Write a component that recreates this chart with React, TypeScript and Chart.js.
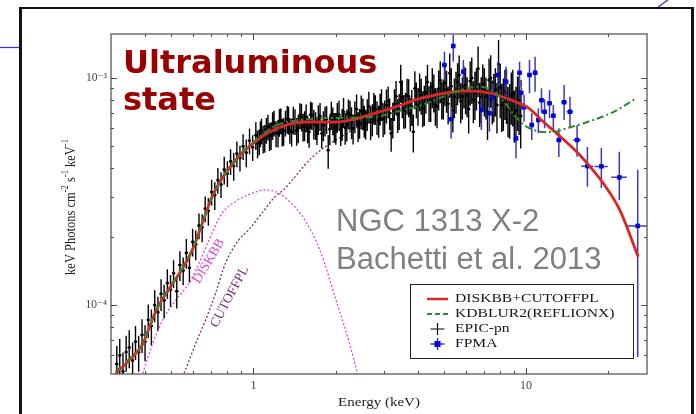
import React, { useEffect, useRef } from 'react';
import { Chart, registerables } from 'chart.js';

Chart.register(...registerables);

// ---------------- axis ranges & ticks ----------------
const X_MIN = 0.312;
const X_MAX = 27.8;
const Y_MIN = 4.966e-5;
const Y_MAX = 1.5625e-3;
const xLabelTicks = [1, 10];
const yLabelTicks = [1e-4, 1e-3];
const xMinorTicks = [0.4, 0.5, 0.6, 0.7, 0.8, 0.9, 2, 3, 4, 5, 6, 7, 8, 9, 20];
const yMinorTicks = [6e-5, 7e-5, 8e-5, 9e-5, 2e-4, 3e-4, 4e-4, 5e-4, 6e-4, 7e-4, 8e-4, 9e-4];

// ---------------- EPIC-pn data (main bins) ----------------
const epicEnergy = [
  0.315, 0.323, 0.332, 0.341, 0.35, 0.36, 0.369, 0.379, 0.39, 0.4,
  0.411, 0.422, 0.434, 0.446, 0.458, 0.47, 0.483, 0.496, 0.509, 0.523,
  0.537, 0.552, 0.567, 0.582, 0.598, 0.614, 0.631, 0.648, 0.665, 0.683,
  0.702, 0.721, 0.74, 0.76, 0.781, 0.802, 0.824, 0.846, 0.869, 0.892,
  0.916, 0.941, 0.967, 0.993, 1.02, 1.05, 1.07, 1.1, 1.13, 1.16,
  1.19, 1.23, 1.26, 1.29, 1.33, 1.36, 1.4, 1.44, 1.48, 1.52,
  1.56, 1.6, 1.64, 1.69, 1.73, 1.78, 1.83, 1.88, 1.93, 1.98,
  2.03, 2.09, 2.14, 2.2, 2.26, 2.32, 2.39, 2.45, 2.52, 2.58,
  2.65, 2.73, 2.8, 2.88, 2.95, 3.03, 3.12, 3.2, 3.29, 3.38,
  3.47, 3.56, 3.66, 3.76, 3.86, 3.96, 4.07, 4.18, 4.29, 4.41,
  4.53, 4.65, 4.78, 4.91, 5.04, 5.18, 5.32, 5.46, 5.61, 5.76,
  5.92, 6.08, 6.24, 6.41, 6.58, 6.76, 6.94, 7.13, 7.32, 7.52,
  7.72, 7.93, 8.15, 8.37, 8.59, 8.83, 9.06, 9.31, 9.56,
];
const epicFlux = [
  5.5e-5, 6.0e-5, 5.1e-5, 6.2e-5, 6.5e-5, 5.7e-5, 6.9e-5, 6.2e-5, 7.4e-5, 6.9e-5,
  8.6e-5, 8.1e-5, 1.0e-4, 9.3e-5, 1.12e-4, 1.05e-4, 1.25e-4, 1.17e-4, 1.38e-4, 1.15e-4,
  1.5e-4, 1.42e-4, 1.7e-4, 1.46e-4, 1.9e-4, 1.85e-4, 2.24e-4, 2.2e-4, 2.66e-4, 2.6e-4,
  3.15e-4, 3.05e-4, 3.55e-4, 3.4e-4, 3.95e-4, 3.8e-4, 4.3e-4, 4.1e-4, 4.65e-4, 4.45e-4,
  5.0e-4, 4.7e-4, 5.3e-4, 4.95e-4, 5.6e-4, 5.25e-4, 5.85e-4, 5.45e-4, 6.1e-4, 5.6e-4,
  6.35e-4, 5.75e-4, 6.5e-4, 5.85e-4, 6.6e-4, 5.9e-4, 6.55e-4, 5.85e-4, 6.85e-4, 6.1e-4,
  6.7e-4, 5.8e-4, 6.85e-4, 6.2e-4, 6.6e-4, 5.7e-4, 6.5e-4, 4.8e-4, 6.9e-4, 6.1e-4,
  6.75e-4, 5.9e-4, 7.1e-4, 6.25e-4, 6.9e-4, 6.0e-4, 7.3e-4, 6.35e-4, 7.0e-4, 6.3e-4,
  7.5e-4, 6.6e-4, 7.3e-4, 6.5e-4, 7.7e-4, 6.8e-4, 7.9e-4, 5.7e-4, 7.7e-4, 6.9e-4,
  9.6e-4, 7.2e-4, 8.4e-4, 7.0e-4, 5.8e-4, 8.1e-4, 8.8e-4, 7.4e-4, 8.6e-4, 7.8e-4,
  9.2e-4, 7.6e-4, 9.0e-4, 8.1e-4, 9.5e-4, 7.7e-4, 9.2e-4, 8.3e-4, 9.6e-4, 7.9e-4,
  9.3e-4, 8.4e-4, 9.7e-4, 8.0e-4, 9.1e-4, 7.8e-4, 9.4e-4, 8.3e-4, 9.8e-4, 8.0e-4,
  8.9e-4, 1.15e-3, 7.6e-4, 8.7e-4, 7.3e-4, 8.4e-4, 7.0e-4, 8.0e-4, 6.8e-4,
];
const epicRelErr = [
  0.2, 0.18, 0.21, 0.18, 0.19, 0.2, 0.17, 0.18, 0.17, 0.18,
  0.17, 0.18, 0.16, 0.17, 0.16, 0.17, 0.15, 0.16, 0.14, 0.16,
  0.15, 0.14, 0.15, 0.14, 0.14, 0.15, 0.13, 0.14, 0.13, 0.14,
  0.13, 0.14, 0.13, 0.13, 0.14, 0.13, 0.13, 0.14, 0.13, 0.13,
  0.13, 0.14, 0.13, 0.13, 0.14, 0.13, 0.13, 0.14, 0.13, 0.14,
  0.13, 0.14, 0.13, 0.14, 0.14, 0.13, 0.14, 0.14, 0.13, 0.14,
  0.14, 0.15, 0.14, 0.14, 0.15, 0.14, 0.15, 0.17, 0.14, 0.15,
  0.15, 0.15, 0.15, 0.16, 0.15, 0.15, 0.16, 0.15, 0.16, 0.15,
  0.16, 0.16, 0.15, 0.16, 0.16, 0.17, 0.16, 0.17, 0.16, 0.17,
  0.19, 0.17, 0.18, 0.17, 0.19, 0.18, 0.19, 0.18, 0.19, 0.18,
  0.2, 0.19, 0.2, 0.19, 0.21, 0.19, 0.2, 0.2, 0.21, 0.2,
  0.21, 0.2, 0.22, 0.21, 0.21, 0.22, 0.22, 0.21, 0.24, 0.22,
  0.24, 0.28, 0.24, 0.25, 0.25, 0.26, 0.26, 0.27, 0.28,
];

// ---------------- EPIC-pn data (interleaved bins, 1-9.5 keV) ----------------
const epicEnergyB = [
  1.035, 1.06, 1.085, 1.115, 1.145, 1.175, 1.21, 1.245, 1.275, 1.31,
  1.345, 1.38, 1.42, 1.46, 1.5, 1.54, 1.58, 1.62, 1.665, 1.71,
  1.755, 1.805, 1.855, 1.905, 1.955, 2.005, 2.06, 2.115, 2.17, 2.23,
  2.29, 2.355, 2.42, 2.485, 2.55, 2.615, 2.69, 2.765, 2.84, 2.915,
  2.99, 3.075, 3.16, 3.245, 3.335, 3.425, 3.515, 3.61, 3.71, 3.81,
  3.91, 4.015, 4.125, 4.235, 4.35, 4.47, 4.59, 4.715, 4.845, 4.975,
  5.11, 5.25, 5.39, 5.535, 5.685, 5.84, 6.0, 6.16, 6.325, 6.495,
  6.67, 6.85, 7.035, 7.225, 7.42, 7.62, 7.825, 8.04, 8.26, 8.48,
  8.71, 8.945, 9.185, 9.435,
];
const epicFluxB = [
  5.15e-4, 5.7e-4, 5.4e-4, 5.9e-4, 5.55e-4, 6.2e-4, 5.7e-4, 6.4e-4, 5.8e-4, 6.35e-4,
  6.55e-4, 5.8e-4, 6.45e-4, 6.0e-4, 6.75e-4, 6.2e-4, 6.0e-4, 6.9e-4, 6.3e-4, 5.9e-4,
  6.8e-4, 6.2e-4, 6.6e-4, 5.95e-4, 6.5e-4, 6.05e-4, 6.9e-4, 6.3e-4, 6.05e-4, 7.0e-4,
  6.4e-4, 6.8e-4, 6.15e-4, 7.15e-4, 6.5e-4, 6.95e-4, 6.4e-4, 7.4e-4, 6.75e-4, 7.35e-4,
  6.6e-4, 7.6e-4, 7.0e-4, 6.6e-4, 8.3e-4, 7.2e-4, 8.2e-4, 7.3e-4, 8.3e-4, 7.5e-4,
  9.0e-4, 7.6e-4, 8.4e-4, 7.7e-4, 9.6e-4, 8.0e-4, 8.7e-4, 7.5e-4, 9.8e-4, 8.2e-4,
  8.9e-4, 1.05e-3, 7.2e-4, 8.8e-4, 1.03e-3, 8.3e-4, 9.0e-4, 7.3e-4, 1.0e-3, 8.6e-4,
  1.1e-3, 8.2e-4, 8.9e-4, 7.1e-4, 1.0e-3, 8.4e-4, 7.6e-4, 9.1e-4, 7.9e-4, 8.6e-4,
  7.4e-4, 8.5e-4, 7.2e-4, 7.9e-4,
];
const epicRelErrB = [
  0.14, 0.13, 0.14, 0.13, 0.14, 0.14, 0.13, 0.14, 0.14, 0.13,
  0.14, 0.14, 0.13, 0.14, 0.14, 0.15, 0.14, 0.14, 0.15, 0.14,
  0.14, 0.15, 0.14, 0.15, 0.14, 0.16, 0.15, 0.16, 0.16, 0.15,
  0.16, 0.16, 0.15, 0.17, 0.16, 0.16, 0.17, 0.16, 0.17, 0.16,
  0.17, 0.17, 0.16, 0.18, 0.17, 0.18, 0.19, 0.18, 0.19, 0.18,
  0.19, 0.19, 0.18, 0.2, 0.19, 0.2, 0.19, 0.2, 0.21, 0.2,
  0.21, 0.22, 0.2, 0.21, 0.22, 0.21, 0.23, 0.22, 0.23, 0.24,
  0.25, 0.23, 0.24, 0.25, 0.26, 0.24, 0.25, 0.27, 0.26, 0.27,
  0.27, 0.28, 0.27, 0.29,
];
const epicAllEnergy = [...epicEnergy, ...epicEnergyB];
const epicAllFlux = [...epicFlux, ...epicFluxB];
const epicAllRelErr = [...epicRelErr, ...epicRelErrB];

// ---------------- FPMA data ----------------
const fpmaEnergy = [
  5.02, 5.31, 5.41, 5.89, 6.86, 7.34, 7.55, 7.89, 8.45, 9.19,
  9.47, 9.6, 9.84, 10.3, 10.5, 10.8, 11.1, 11.4, 11.7, 12.2,
  12.6, 13.2, 13.8, 14.5, 15.4, 16.8, 18.9, 22.0, 25.7,
];
const fpmaEnergyErr = [
  0.1, 0.1, 0.1, 0.12, 0.14, 0.15, 0.15, 0.16, 0.17, 0.18,
  0.19, 0.19, 0.2, 0.2, 0.21, 0.22, 0.22, 0.23, 0.24, 0.25,
  0.26, 0.3, 0.35, 0.4, 0.5, 0.85, 1.05, 1.45, 2.2,
];
const fpmaFlux = [
  1.141e-3, 6.58e-4, 1.383e-3, 1.066e-3, 7.23e-4, 6.99e-4, 8.27e-4, 1.031e-3, 9.63e-4, 5.42e-4,
  1.055e-3, 8.61e-4, 7.43e-4, 1.031e-3, 6.21e-4, 1.055e-3, 6.53e-4, 7.98e-4, 7.1e-4, 7.74e-4,
  6.82e-4, 5.33e-4, 7.82e-4, 7.1e-4, 5.33e-4, 4.09e-4, 4.08e-4, 3.65e-4, 2.23e-4,
];
const fpmaFluxHi = [
  1.306e-3, 7.47e-4, 1.546e-3, 1.2e-3, 8.16e-4, 8.0e-4, 9.4e-4, 1.18e-3, 1.121e-3, 6.21e-4,
  1.18e-3, 9.8e-4, 8.42e-4, 1.2e-3, 6.99e-4, 1.241e-3, 7.35e-4, 9.01e-4, 8.06e-4, 8.86e-4,
  7.6e-4, 6.0e-4, 9.32e-4, 8.27e-4, 6.21e-4, 4.97e-4, 4.92e-4, 4.73e-4, 3.94e-4,
];
const fpmaFluxLo = [
  9.8e-4, 5.42e-4, 1.18e-3, 9.32e-4, 5.9e-4, 5.8e-4, 7.1e-4, 9.15e-4, 8.27e-4, 4.43e-4,
  9.15e-4, 7.23e-4, 6.42e-4, 8.56e-4, 5.33e-4, 8.7e-4, 5.71e-4, 6.99e-4, 6.0e-4, 6.65e-4,
  5.8e-4, 4.49e-4, 6.53e-4, 6.0e-4, 4.5e-4, 3.32e-4, 3.28e-4, 2.9e-4, 5.9e-5,
];

// ---------------- model curves ----------------
const modelEnergy = [
  0.312, 0.351, 0.3925, 0.415, 0.439, 0.491, 0.548, 0.597, 0.649, 0.705,
  0.789, 0.907, 1.072, 1.2, 1.52, 2.0, 2.37, 2.8, 3.31, 4.15,
  4.63, 5.95, 7.27, 8.82, 10.2, 11.6, 13.4, 15.5, 17.2, 19.2,
  22.1, 25.8,
];
const modelFlux = [
  5.0e-5, 5.73e-5, 6.73e-5, 7.97e-5, 9.44e-5, 1.18e-4, 1.445e-4, 1.75e-4, 2.29e-4, 3.0e-4,
  3.8e-4, 4.66e-4, 5.51e-4, 5.95e-4, 6.4e-4, 6.4e-4, 6.6e-4, 7.0e-4, 7.45e-4, 8.17e-4,
  8.41e-4, 8.77e-4, 8.61e-4, 8.0e-4, 7.38e-4, 6.4e-4, 5.5e-4, 4.67e-4, 4.06e-4, 3.44e-4,
  2.62e-4, 1.63e-4,
];
const reflEnergy = [
  0.312, 0.351, 0.3925, 0.415, 0.439, 0.491, 0.548, 0.597, 0.649, 0.705,
  0.789, 0.907, 1.072, 1.2, 1.52, 2.0, 2.8, 3.51, 4.15, 4.63,
  6.15, 6.86, 7.65, 8.32, 9.04, 9.84, 10.7, 11.6, 12.6, 14.2,
  16.8, 20.9, 25.5,
];
const reflFlux = [
  5.1e-5, 5.8e-5, 6.8e-5, 8.0e-5, 9.5e-5, 1.19e-4, 1.45e-4, 1.76e-4, 2.3e-4, 3.0e-4,
  3.82e-4, 4.7e-4, 5.6e-4, 6.15e-4, 6.55e-4, 6.67e-4, 6.75e-4, 7.22e-4, 7.6e-4, 8.0e-4,
  9.03e-4, 9.13e-4, 8.68e-4, 7.84e-4, 6.87e-4, 6.21e-4, 5.9e-4, 5.78e-4, 5.78e-4, 6.02e-4,
  6.4e-4, 7.08e-4, 8.17e-4,
];
const diskEnergy = [
  0.3925, 0.427, 0.464, 0.519, 0.58, 0.631, 0.686, 0.767, 0.858, 0.986,
  1.103, 1.199, 1.33, 1.55, 1.75, 2.01, 2.25, 2.41,
];
const diskFlux = [
  5.0e-5, 6.78e-5, 8.59e-5, 1.05e-4, 1.247e-4, 1.527e-4, 1.93e-4, 2.535e-4, 2.855e-4, 3.1e-4,
  3.21e-4, 3.16e-4, 2.92e-4, 2.35e-4, 1.75e-4, 1.05e-4, 6.78e-5, 4.97e-5,
];
const cutEnergy = [
  0.5565, 0.614, 0.667, 0.726, 0.789, 0.882, 0.959, 1.072, 1.199, 1.286,
  1.65, 2.31, 2.8, 3.51, 4.15, 4.63, 5.95, 7.27, 8.82, 10.2,
  11.6, 13.4, 15.5, 17.2, 19.2, 22.1, 25.8,
];
const cutFlux = [
  5.0e-5, 6.78e-5, 8.59e-5, 1.127e-4, 1.527e-4, 1.93e-4, 2.14e-4, 2.53e-4, 3.0e-4, 3.21e-4,
  4.5e-4, 5.9e-4, 6.73e-4, 7.38e-4, 8.1e-4, 8.38e-4, 8.75e-4, 8.6e-4, 8.0e-4, 7.38e-4,
  6.4e-4, 5.5e-4, 4.67e-4, 4.06e-4, 3.44e-4, 2.62e-4, 1.63e-4,
];

// curve-label anchors (data coordinates)
const diskLabel = { text: 'DISKBB', e: 0.686, f: 1.56e-4, angle: -59 };
const cutLabel = { text: 'CUTOFFPL', e: 0.818, f: 1.087e-4, angle: -62 };

const legendLabels = ['DISKBB+CUTOFFPL', 'KDBLUR2(REFLIONX)', 'EPIC-pn', 'FPMA'];

// ---------------- styles ----------------
const RED = '#dc2525';
const GREEN = '#2f8a2f';
const MAGENTA = '#d54bd5';
const PURPLE = '#7a2d78';
const BLUE = '#0000e0';
const BLUE_BAR = '#3c3cb0';
const SERIF = '"Liberation Serif", "DejaVu Serif", serif';
const STRETCH = 1.2;

const toXY = (xs: number[], ys: number[]) => xs.map((x, i) => ({ x, y: ys[i] }));

const SUP: Record<string, string> = { '-': '⁻', '0': '⁰', '1': '¹', '2': '²', '3': '³', '4': '⁴', '5': '⁵' };
const supText = (s: string) => s.split('').map((c) => SUP[c] || c).join('');

function drawRich(ctx: CanvasRenderingContext2D, parts: [string, boolean][], size: number) {
  let total = 0;
  const widths = parts.map(([t, sup]) => {
    ctx.font = `${sup ? size * 0.68 : size}px ${SERIF}`;
    const w = ctx.measureText(t).width;
    total += w;
    return w;
  });
  let x = -total / 2;
  parts.forEach(([t, sup], i) => {
    ctx.font = `${sup ? size * 0.68 : size}px ${SERIF}`;
    ctx.fillText(t, x, sup ? -size * 0.38 : 0);
    x += widths[i];
  });
}

const figurePlugin = {
  id: 'figurePlugin',
  beforeDatasetDraw(chart: any, args: any) {
    const ds = chart.data.datasets[args.index];
    const kind = ds.errKind;
    if (!kind) return;
    const ctx: CanvasRenderingContext2D = chart.ctx;
    const xs = chart.scales.x;
    const ys = chart.scales.y;
    const a = chart.chartArea;
    ctx.save();
    ctx.beginPath();
    ctx.rect(a.left, a.top, a.right - a.left, a.bottom - a.top);
    ctx.clip();
    ctx.beginPath();
    if (kind === 'epic') {
      ctx.strokeStyle = '#000';
      ctx.lineWidth = 1.4;
      epicAllEnergy.forEach((e, i) => {
        const f = epicAllFlux[i];
        const px = xs.getPixelForValue(e);
        const py = ys.getPixelForValue(f);
        ctx.moveTo(px, ys.getPixelForValue(f * (1 + epicAllRelErr[i])));
        ctx.lineTo(px, ys.getPixelForValue(f * (1 - epicAllRelErr[i])));
        ctx.moveTo(xs.getPixelForValue(e * 0.986), py);
        ctx.lineTo(xs.getPixelForValue(e * 1.014), py);
      });
    } else {
      ctx.strokeStyle = BLUE_BAR;
      ctx.lineWidth = 1.5;
      fpmaEnergy.forEach((e, i) => {
        const px = xs.getPixelForValue(e);
        const py = ys.getPixelForValue(fpmaFlux[i]);
        ctx.moveTo(px, ys.getPixelForValue(fpmaFluxHi[i]));
        ctx.lineTo(px, ys.getPixelForValue(fpmaFluxLo[i]));
        ctx.moveTo(xs.getPixelForValue(e - fpmaEnergyErr[i]), py);
        ctx.lineTo(xs.getPixelForValue(e + fpmaEnergyErr[i]), py);
      });
    }
    ctx.stroke();
    ctx.restore();
  },
  afterDraw(chart: any) {
    const ctx: CanvasRenderingContext2D = chart.ctx;
    const xs = chart.scales.x;
    const ys = chart.scales.y;
    const { left, right, top, bottom } = chart.chartArea;
    ctx.save();

    // frame
    ctx.strokeStyle = '#4a4a4a';
    ctx.lineWidth = 1.2;
    ctx.strokeRect(left, top, right - left, bottom - top);

    // inward ticks on all sides
    ctx.lineWidth = 1;
    ctx.beginPath();
    const xTick = (v: number, len: number) => {
      const p = Math.round(xs.getPixelForValue(v)) + 0.5;
      ctx.moveTo(p, bottom);
      ctx.lineTo(p, bottom - len);
      ctx.moveTo(p, top);
      ctx.lineTo(p, top + len);
    };
    const yTick = (v: number, len: number) => {
      const p = Math.round(ys.getPixelForValue(v)) + 0.5;
      ctx.moveTo(left, p);
      ctx.lineTo(left + len, p);
      ctx.moveTo(right, p);
      ctx.lineTo(right - len, p);
    };
    xLabelTicks.forEach((v) => xTick(v, 6));
    xMinorTicks.forEach((v) => xTick(v, 3));
    yLabelTicks.forEach((v) => yTick(v, 6));
    yMinorTicks.forEach((v) => yTick(v, 3));
    ctx.stroke();

    // axis titles
    ctx.fillStyle = '#222';
    ctx.textBaseline = 'middle';
    ctx.save();
    ctx.translate((left + right) / 2, bottom + 29);
    ctx.scale(STRETCH, 1);
    ctx.textAlign = 'center';
    ctx.font = `12.5px ${SERIF}`;
    ctx.fillText('Energy (keV)', 0, 0);
    ctx.restore();

    ctx.save();
    ctx.translate(left - 40, (top + bottom) / 2 + 3);
    ctx.scale(STRETCH, 1);
    ctx.rotate(-Math.PI / 2);
    ctx.textAlign = 'left';
    drawRich(
      ctx,
      [
        ['keV Photons cm', false],
        ['-2', true],
        [' s', false],
        ['-1', true],
        [' keV', false],
        ['-1', true],
      ],
      12.5,
    );
    ctx.restore();

    // curve labels
    [
      { ...diskLabel, color: MAGENTA },
      { ...cutLabel, color: PURPLE },
    ].forEach((l) => {
      ctx.save();
      ctx.translate(xs.getPixelForValue(l.e), ys.getPixelForValue(l.f));
      ctx.rotate((l.angle * Math.PI) / 180);
      ctx.fillStyle = l.color;
      ctx.textAlign = 'center';
      ctx.font = `13.5px ${SERIF}`;
      ctx.fillText(l.text, 0, 0);
      ctx.restore();
    });

    // legend
    const lw = 223;
    const lh = 74;
    const lx = right - 14 - lw;
    const ly = bottom - 16 - lh;
    ctx.fillStyle = '#fff';
    ctx.fillRect(lx, ly, lw, lh);
    ctx.strokeStyle = '#222';
    ctx.lineWidth = 1;
    ctx.strokeRect(lx + 0.5, ly + 0.5, lw, lh);
    const sx0 = lx + 17;
    const sx1 = lx + 38;
    const sxc = (sx0 + sx1) / 2;
    legendLabels.forEach((label, i) => {
      const ry = ly + 15 + i * 15;
      ctx.save();
      if (i === 0) {
        ctx.strokeStyle = RED;
        ctx.lineWidth = 2.5;
        ctx.beginPath();
        ctx.moveTo(sx0, ry);
        ctx.lineTo(sx1, ry);
        ctx.stroke();
      } else if (i === 1) {
        ctx.strokeStyle = GREEN;
        ctx.lineWidth = 2;
        ctx.setLineDash([5, 3]);
        ctx.beginPath();
        ctx.moveTo(sx0, ry);
        ctx.lineTo(sx1, ry);
        ctx.stroke();
      } else if (i === 2) {
        ctx.strokeStyle = '#000';
        ctx.lineWidth = 1.2;
        ctx.beginPath();
        ctx.moveTo(sxc - 7, ry);
        ctx.lineTo(sxc + 7, ry);
        ctx.moveTo(sxc, ry - 6);
        ctx.lineTo(sxc, ry + 6);
        ctx.stroke();
      } else {
        ctx.strokeStyle = BLUE_BAR;
        ctx.lineWidth = 1.5;
        ctx.beginPath();
        ctx.moveTo(sxc - 7, ry);
        ctx.lineTo(sxc + 7, ry);
        ctx.moveTo(sxc, ry - 6);
        ctx.lineTo(sxc, ry + 6);
        ctx.stroke();
        ctx.fillStyle = BLUE;
        ctx.fillRect(sxc - 3, ry - 3, 6, 6);
      }
      ctx.restore();
      ctx.save();
      ctx.translate(lx + 45, ry);
      ctx.scale(STRETCH, 1);
      ctx.fillStyle = '#151515';
      ctx.textAlign = 'left';
      ctx.textBaseline = 'middle';
      ctx.font = `13px ${SERIF}`;
      ctx.fillText(label, 0, 0);
      ctx.restore();
    });

    ctx.restore();
  },
};

export default function App() {
  const canvasRef = useRef<HTMLCanvasElement | null>(null);

  useEffect(() => {
    const canvas = canvasRef.current;
    if (!canvas) return;
    const chart = new Chart(canvas, {
      type: 'scatter',
      data: {
        datasets: [
          {
            label: 'KDBLUR2(REFLIONX)',
            data: toXY(reflEnergy, reflFlux),
            showLine: true,
            borderColor: GREEN,
            borderWidth: 2,
            borderDash: [7, 3, 2, 3],
            pointRadius: 0,
            cubicInterpolationMode: 'monotone',
            order: 0,
          },
          {
            label: 'DISKBB+CUTOFFPL',
            data: toXY(modelEnergy, modelFlux),
            showLine: true,
            borderColor: RED,
            borderWidth: 2.8,
            pointRadius: 0,
            cubicInterpolationMode: 'monotone',
            order: 1,
          },
          {
            label: 'FPMA',
            data: toXY(fpmaEnergy, fpmaFlux),
            pointStyle: 'rect',
            pointRadius: 3.2,
            backgroundColor: BLUE,
            borderColor: BLUE,
            borderWidth: 0,
            errKind: 'fpma',
            order: 2,
          } as any,
          {
            label: 'EPIC-pn',
            data: toXY(epicAllEnergy, epicAllFlux),
            pointRadius: 1.5,
            backgroundColor: '#000',
            borderColor: '#000',
            borderWidth: 0,
            errKind: 'epic',
            order: 3,
          } as any,
          {
            label: 'DISKBB',
            data: toXY(diskEnergy, diskFlux),
            showLine: true,
            borderColor: MAGENTA,
            borderWidth: 1.3,
            borderDash: [2, 2],
            pointRadius: 0,
            cubicInterpolationMode: 'monotone',
            order: 4,
          },
          {
            label: 'CUTOFFPL',
            data: toXY(cutEnergy, cutFlux),
            showLine: true,
            borderColor: PURPLE,
            borderWidth: 1.3,
            borderDash: [2, 2],
            pointRadius: 0,
            cubicInterpolationMode: 'monotone',
            order: 5,
          },
        ],
      },
      options: {
        responsive: false,
        animation: false,
        devicePixelRatio: 1,
        events: [],
        layout: { padding: { top: 34, right: 49, left: 0, bottom: 0 } },
        plugins: { legend: { display: false }, tooltip: { enabled: false } },
        scales: {
          x: {
            type: 'logarithmic',
            position: 'bottom',
            min: X_MIN,
            max: X_MAX,
            grid: { display: false, drawTicks: false },
            border: { display: false },
            afterBuildTicks: (s: any) => {
              s.ticks = xLabelTicks.map((value) => ({ value }));
            },
            afterFit: (s: any) => {
              s.height = 40;
            },
            ticks: {
              padding: 5,
              autoSkip: false,
              maxRotation: 0,
              color: '#444',
              font: { family: SERIF, size: 12 },
              callback: (v: any) => String(Number(v)),
            },
          },
          y: {
            type: 'logarithmic',
            position: 'left',
            min: Y_MIN,
            max: Y_MAX,
            grid: { display: false, drawTicks: false },
            border: { display: false },
            afterBuildTicks: (s: any) => {
              s.ticks = yLabelTicks.map((value) => ({ value }));
            },
            afterFit: (s: any) => {
              s.width = 111;
            },
            ticks: {
              padding: 4,
              autoSkip: false,
              color: '#444',
              font: { family: SERIF, size: 11.5 },
              callback: (v: any) => '10' + supText(String(Math.round(Math.log10(Number(v))))),
            },
          },
        },
      } as any,
      plugins: [figurePlugin as any],
    });
    return () => chart.destroy();
  }, []);

  return (
    <div
      style={{
        position: 'fixed',
        left: 0,
        top: 0,
        width: 696,
        height: 414,
        overflow: 'hidden',
        background: '#fff',
      }}
    >
      <svg width={696} height={414} style={{ position: 'absolute', left: 0, top: 0 }}>
        <line x1={0} y1={47.5} x2={20} y2={47.5} stroke="#2b2bea" strokeWidth={1.2} />
        <line x1={657} y1={8} x2={669} y2={-1} stroke="#2b2bea" strokeWidth={1.2} />
      </svg>
      <div
        style={{
          position: 'absolute',
          left: 19,
          top: 7,
          width: 675,
          height: 430,
          boxSizing: 'border-box',
          borderStyle: 'solid',
          borderColor: '#111',
          borderWidth: '2px 3px 3px 3px',
        }}
      />
      <canvas
        ref={canvasRef}
        width={696}
        height={414}
        style={{ position: 'absolute', left: 0, top: 0, width: 696, height: 414 }}
      />
      <div
        style={{
          position: 'absolute',
          left: 123,
          top: 44,
          fontFamily: '"DejaVu Sans", sans-serif',
          fontWeight: 'bold',
          fontSize: 32,
          lineHeight: '37px',
          color: '#990000',
          whiteSpace: 'nowrap',
        }}
      >
        Ultraluminous
        <br />
        state
      </div>
      <div
        style={{
          position: 'absolute',
          left: 336,
          top: 202,
          fontFamily: '"Liberation Sans", Arial, sans-serif',
          fontSize: 31,
          lineHeight: '38px',
          color: '#808080',
          whiteSpace: 'nowrap',
        }}
      >
        NGC 1313 X-2
        <br />
        Bachetti et al. 2013
      </div>
    </div>
  );
}
